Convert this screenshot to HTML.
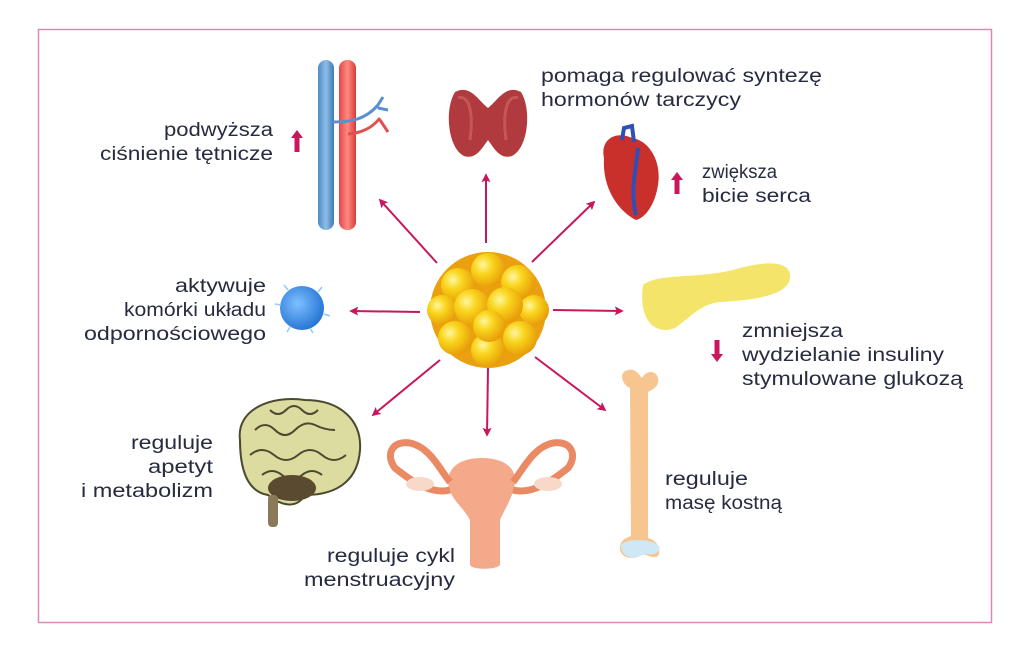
<!DOCTYPE html>
<html><head><meta charset="utf-8"><style>
html,body{margin:0;padding:0;background:#fff}
svg{display:block}
text{font-family:"Liberation Sans",sans-serif;font-size:19px;fill:#262b40}
</style></head><body>
<svg width="1024" height="652" viewBox="0 0 1024 652" xmlns="http://www.w3.org/2000/svg">
<defs>
<marker id="ah" viewBox="0 0 10 10" refX="8" refY="5" markerWidth="9" markerHeight="9" markerUnits="userSpaceOnUse" orient="auto"><path d="M0,0L10,5L0,10L2,5z" fill="#c8175d"/></marker>
<radialGradient id="ball" cx="0.35" cy="0.35" r="0.7"><stop offset="0" stop-color="#fff6a0"/><stop offset="0.4" stop-color="#f9d51c"/><stop offset="1" stop-color="#e79a08"/></radialGradient>
<linearGradient id="bv" x1="0" x2="1"><stop offset="0" stop-color="#4f8cc8"/><stop offset="0.5" stop-color="#8fbde6"/><stop offset="1" stop-color="#3d78b8"/></linearGradient>
<linearGradient id="rv" x1="0" x2="1"><stop offset="0" stop-color="#e04848"/><stop offset="0.5" stop-color="#ff8a80"/><stop offset="1" stop-color="#d83a3a"/></linearGradient>
<radialGradient id="cell" cx="0.4" cy="0.4" r="0.6"><stop offset="0" stop-color="#7dc0ff"/><stop offset="1" stop-color="#2a78d6"/></radialGradient>
</defs>
<rect x="38.5" y="29.5" width="953" height="593" fill="none" stroke="#d98bb5" stroke-width="1.5"/>

<!-- vessels -->
<rect x="318" y="60" width="16" height="170" rx="8" fill="url(#bv)"/>
<rect x="339" y="60" width="17" height="170" rx="8" fill="url(#rv)"/>
<path d="M333,122 C350,122 365,120 378,105 M376,108 L383,97 M378,108 L388,110" stroke="#5a90cc" stroke-width="3" fill="none"/>
<path d="M348,134 C362,133 372,128 380,118 M380,120 L388,132" stroke="#e05050" stroke-width="3" fill="none"/>

<!-- thyroid -->
<path d="M455,92 C470,84 478,100 488,108 C498,100 506,84 521,92 C532,110 528,148 512,156 C500,160 494,148 488,140 C482,148 476,160 464,156 C448,148 444,110 455,92z" fill="#b03a3e"/>
<path d="M458,98 C468,94 474,110 470,140 M518,98 C508,94 502,110 506,140" stroke="#d46a6a" stroke-width="3" fill="none" opacity="0.6"/>

<!-- heart -->
<path d="M604,158 C600,140 615,130 632,138 C648,140 662,160 658,185 C655,205 645,218 636,220 C620,212 602,190 604,158z" fill="#c9302c"/>
<path d="M622,140 L624,128 L632,126 L634,142 M638,148 C636,170 630,190 636,215" stroke="#2f4fb5" stroke-width="4" fill="none"/>

<!-- pancreas -->
<path d="M643,285 C660,272 700,280 740,268 C770,260 792,262 790,278 C788,294 760,300 720,302 C700,304 690,318 675,328 C655,336 638,320 643,285z" fill="#f4e56a"/>

<!-- immune cell -->
<circle cx="302" cy="308" r="22" fill="url(#cell)"/>
<path d="M288,290 l-4,-5 M318,292 l4,-5 M324,314 l6,2 M310,328 l3,5 M290,327 l-3,5 M281,305 l-6,-1" stroke="#8ec9ff" stroke-width="1.5"/>

<!-- brain -->
<path d="M240,440 C236,410 270,395 305,400 C340,400 362,420 360,450 C358,478 340,495 305,495 C296,510 280,505 268,495 C250,492 240,475 240,440z" fill="#dcdba0" stroke="#4a4a30" stroke-width="2"/>
<path d="M255,430 q10,-10 20,0 t20,0 t20,-5 t20,5 M250,455 q12,-10 24,0 t24,0 t24,0 t24,0 M262,475 q10,-8 20,0 t20,0 t20,0 M270,410 q8,8 16,0 t16,0 t16,0" stroke="#4a4a30" stroke-width="2" fill="none"/>
<ellipse cx="292" cy="488" rx="24" ry="13" fill="#5a4a30"/>
<rect x="268" y="495" width="10" height="32" rx="4" fill="#8a7a5a"/>

<!-- uterus -->
<path d="M448,480 C450,462 468,458 482,458 C500,458 516,465 515,482 C513,498 505,508 500,520 L500,565 C496,570 472,570 470,565 L470,520 C462,505 448,498 448,480z" fill="#f4a98a"/>
<path d="M450,490 C430,495 410,480 395,468 C385,455 392,440 410,443 C430,447 440,470 450,482" stroke="#e98a64" stroke-width="7" fill="none"/>
<path d="M513,490 C533,495 553,480 568,468 C578,455 571,440 553,443 C533,447 523,470 513,482" stroke="#e98a64" stroke-width="7" fill="none"/>
<ellipse cx="420" cy="484" rx="14" ry="7" fill="#f8d8c8"/>
<ellipse cx="548" cy="484" rx="14" ry="7" fill="#f8d8c8"/>

<!-- bone -->
<path d="M630,388 C622,385 618,372 628,370 C636,368 640,376 642,378 C646,370 656,370 658,378 C660,386 652,390 648,392 L648,538 C656,540 662,548 658,556 C652,560 646,552 640,556 C632,560 620,558 620,548 C620,540 626,538 631,536z" fill="#f7c690"/>
<path d="M621,545 C626,538 656,538 660,548 C656,558 648,552 640,556 C632,560 620,556 621,545z" fill="#cfe8f6"/>

<!-- fat blob -->
<g>
<circle cx="488" cy="310" r="58" fill="#eaa010"/>
<circle cx="458" cy="285" r="17" fill="url(#ball)"/>
<circle cx="488" cy="270" r="17" fill="url(#ball)"/>
<circle cx="518" cy="282" r="17" fill="url(#ball)"/>
<circle cx="442" cy="310" r="15" fill="url(#ball)"/>
<circle cx="534" cy="310" r="15" fill="url(#ball)"/>
<circle cx="455" cy="338" r="17" fill="url(#ball)"/>
<circle cx="488" cy="350" r="17" fill="url(#ball)"/>
<circle cx="520" cy="338" r="17" fill="url(#ball)"/>
<circle cx="472" cy="307" r="18" fill="url(#ball)"/>
<circle cx="505" cy="305" r="18" fill="url(#ball)"/>
<circle cx="489" cy="326" r="16" fill="url(#ball)"/>
</g>

<!-- arrows -->
<g stroke="#c8175d" stroke-width="2" marker-end="url(#ah)">
<line x1="486" y1="243" x2="486" y2="175"/>
<line x1="437" y1="263" x2="380" y2="200"/>
<line x1="532" y1="262" x2="594" y2="202"/>
<line x1="420" y1="312" x2="351" y2="311"/>
<line x1="553" y1="310" x2="622" y2="311"/>
<line x1="440" y1="360" x2="373" y2="415"/>
<line x1="488" y1="368" x2="487" y2="435"/>
<line x1="535" y1="357" x2="605" y2="410"/>
</g>

<!-- small status arrows -->
<g fill="#c8175d">
<path d="M297,130 L303,138 L299.5,138 L299.5,152 L294.5,152 L294.5,138 L291,138z"/>
<path d="M677,172 L683,180 L679.5,180 L679.5,194 L674.5,194 L674.5,180 L671,180z"/>
<path d="M717,362 L723,354 L719.5,354 L719.5,340 L714.5,340 L714.5,354 L711,354z"/>
</g>

<!-- labels -->
<g lengthAdjust="spacingAndGlyphs">
<text x="164" y="136" textLength="109" lengthAdjust="spacingAndGlyphs">podwyższa</text>
<text x="100" y="160" textLength="173" lengthAdjust="spacingAndGlyphs">ciśnienie tętnicze</text>
<text x="175" y="292" textLength="91" lengthAdjust="spacingAndGlyphs">aktywuje</text>
<text x="124" y="316" textLength="142" lengthAdjust="spacingAndGlyphs">komórki układu</text>
<text x="84" y="340" textLength="182" lengthAdjust="spacingAndGlyphs">odpornościowego</text>
<text x="131" y="449" textLength="82" lengthAdjust="spacingAndGlyphs">reguluje</text>
<text x="148" y="473" textLength="65" lengthAdjust="spacingAndGlyphs">apetyt</text>
<text x="81" y="497" textLength="132" lengthAdjust="spacingAndGlyphs">i metabolizm</text>
<text x="327" y="562" textLength="128" lengthAdjust="spacingAndGlyphs">reguluje cykl</text>
<text x="304" y="586" textLength="151" lengthAdjust="spacingAndGlyphs">menstruacyjny</text>
<text x="541" y="82" textLength="281" lengthAdjust="spacingAndGlyphs">pomaga regulować syntezę</text>
<text x="541" y="106" textLength="200" lengthAdjust="spacingAndGlyphs">hormonów tarczycy</text>
<text x="702" y="178" textLength="75" lengthAdjust="spacingAndGlyphs">zwiększa</text>
<text x="702" y="202" textLength="109" lengthAdjust="spacingAndGlyphs">bicie serca</text>
<text x="742" y="337" textLength="101" lengthAdjust="spacingAndGlyphs">zmniejsza</text>
<text x="742" y="361" textLength="202" lengthAdjust="spacingAndGlyphs">wydzielanie insuliny</text>
<text x="742" y="385" textLength="221" lengthAdjust="spacingAndGlyphs">stymulowane glukozą</text>
<text x="665" y="485" textLength="83" lengthAdjust="spacingAndGlyphs">reguluje</text>
<text x="665" y="509" textLength="117" lengthAdjust="spacingAndGlyphs">masę kostną</text>
</g>
</svg>
</body></html>
